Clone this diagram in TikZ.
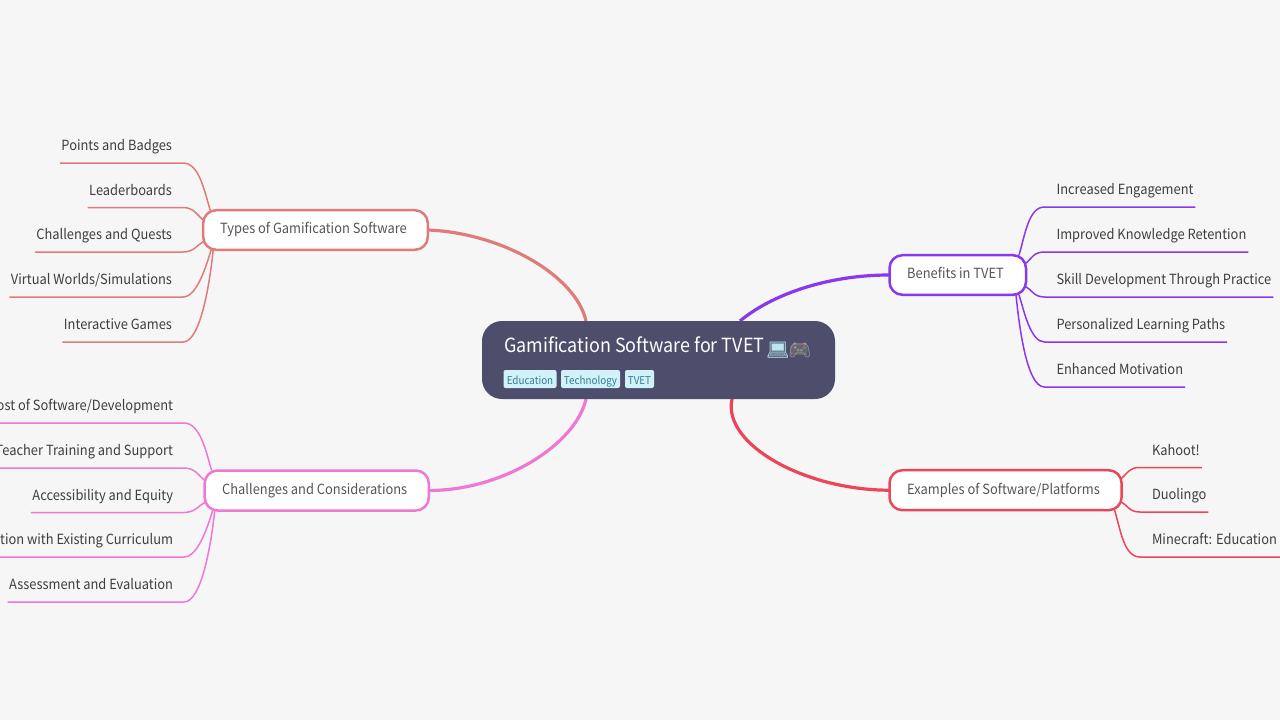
\documentclass[tikz,border=0pt]{standalone}
\usepackage{fontspec}
\setmainfont{Noto Sans CJK SC}[FakeStretch=0.92]
\newfontfamily\emojifont{Noto Emoji}
\usetikzlibrary{calc}
\definecolor{pagebg}{HTML}{F6F6F6}
\definecolor{rootfill}{HTML}{4C4E6B}
\definecolor{tagfill}{HTML}{D2F1F8}
\definecolor{tagtext}{HTML}{2F7F95}
\definecolor{inktext}{HTML}{3E3E3E}
\definecolor{branchtext}{HTML}{555555}
\definecolor{cRed}{HTML}{E07B7B}
\definecolor{cPink}{HTML}{EE78D4}
\definecolor{cPurple}{HTML}{8A38EE}
\definecolor{cCrim}{HTML}{EA4558}
\definecolor{lapcol}{HTML}{BFE3F0}
\definecolor{lapscreen}{HTML}{55707F}
\definecolor{padcol}{HTML}{9A9CA3}
\definecolor{padbody}{HTML}{65666C}
\pgfdeclarelayer{bg}
\pgfsetlayers{bg,main}
\newcommand{\leaffont}{\fontsize{14}{15}\selectfont}
\tikzset{
  x=1pt,y=-1pt,
  rootbox/.style={draw=none,fill=rootfill,rounded corners=20pt,minimum width=353pt,minimum height=78pt,inner sep=0pt,outer sep=0pt,anchor=north west},
  tagbox/.style={fill=tagfill,rounded corners=2pt,minimum height=18pt,inner sep=0pt,outer sep=0pt,anchor=north west,text=tagtext,text height=12pt,text depth=2pt,font=\fontsize{10.7}{12}\selectfont},
  branchbox/.style={draw,line width=2.5pt,fill=white,rounded corners=13pt,inner sep=0pt,outer sep=0pt,anchor=north west},
  branchlabel/.style={anchor=west,inner sep=0pt,text=branchtext,text height=11pt,text depth=3pt,font=\leaffont},
  leafL/.style={inner sep=0pt,outer sep=0pt,minimum height=33pt,anchor=south east,text=inktext,text height=11pt,text depth=3pt,font=\leaffont},
  leafR/.style={inner sep=0pt,outer sep=0pt,minimum height=33pt,anchor=south west,text=inktext,text height=11pt,text depth=3pt,font=\leaffont},
  trunk/.style={line width=3.2pt},
  twig/.style={line width=1.5pt},
}
\newcommand{\lefttext}[1]{\hspace*{1.5pt}#1\hspace*{11pt}}
\newcommand{\righttext}[1]{\hspace*{12pt}#1\hspace*{2pt}}
\begin{document}
\begin{tikzpicture}
\begin{pgfonlayer}{bg}
\fill[pagebg] (0,0) rectangle (1280,720);
\end{pgfonlayer}
\useasboundingbox (0,0) rectangle (1280,720);
\clip (0,0) rectangle (1280,720);
\node[rootbox] (root) at (482,321) {};
\node[anchor=base west,inner sep=0pt,text=white,font=\fontsize{19.5}{20}\selectfont] (title) at (504,352.5) {Gamification Software for TVET};
% colour underlays of the two emoji
\fill[lapscreen] (770.5,342) rectangle (784.5,352.5);
\fill[padbody,rounded corners=4pt] (790,344) rectangle (807.5,355);
\fill[red!70!orange] (802,346) circle (0.9);
\fill[green!60!black] (804,348) circle (0.9);
\fill[blue!70] (800.5,348) circle (0.9);
\node[anchor=base west,inner sep=0pt,text=lapcol,font=\fontsize{18.5}{20}\selectfont\emojifont] (lap) at (766,356) {💻};
\node[anchor=base west,inner sep=0pt,text=padcol,font=\fontsize{18.5}{20}\selectfont\emojifont] (pad) at (788,356) {🎮};
\node[tagbox,minimum width=53pt] (t1) at (503.5,370) {Education};
\node[tagbox,minimum width=59pt] (t2) at (561,370) {Technology};
\node[tagbox,minimum width=29pt] (t3) at (625,370) {TVET};

\node[branchbox,draw=cRed,minimum width=224.6pt,minimum height=39.6pt] (types) at (203.2,210.2) {};
\node[branchlabel] (typesT) at (220,229) {Types of Gamification Software};
\node[branchbox,draw=cPink,minimum width=224.1pt,minimum height=40pt] (chal) at (204.7,470.5) {};
\node[branchlabel] (chalT) at (222,490) {Challenges and Considerations};
\node[branchbox,draw=cPurple,minimum width=136.5pt,minimum height=39.6pt] (bene) at (889.5,255.2) {};
\node[branchlabel] (beneT) at (907,274) {Benefits in TVET};
\node[branchbox,draw=cCrim,minimum width=232.1pt,minimum height=40pt] (exam) at (889.5,470.2) {};
\node[branchlabel] (examT) at (907,490) {Examples of Software/Platforms};

\node[leafL] (a1) at (183,163) {\lefttext{Points and Badges}};
\node[leafL] (a2) at (183,207.5) {\lefttext{Leaderboards}};
\node[leafL] (a3) at (183,252) {\lefttext{Challenges and Quests}};
\node[leafL] (a4) at (183,297) {\lefttext{Virtual Worlds/Simulations}};
\node[leafL] (a5) at (183,342) {\lefttext{Interactive Games}};
\node[leafL] (c1) at (184,423) {\lefttext{Cost of Software/Development}};
\node[leafL] (c2) at (184,468) {\lefttext{Teacher Training and Support}};
\node[leafL] (c3) at (184,512.5) {\lefttext{Accessibility and Equity}};
\node[leafL] (c4) at (184,557) {\lefttext{Integration with Existing Curriculum}};
\node[leafL] (c5) at (184,602) {\lefttext{Assessment and Evaluation}};
\node[leafR] (b1) at (1044.5,207) {\righttext{Increased Engagement}};
\node[leafR] (b2) at (1044.5,252) {\righttext{Improved Knowledge Retention}};
\node[leafR] (b3) at (1044.5,297) {\righttext{Skill Development Through Practice}};
\node[leafR] (b4) at (1044.5,342) {\righttext{Personalized Learning Paths}};
\node[leafR] (b5) at (1044.5,387) {\righttext{Enhanced Motivation}};
\node[leafR] (e1) at (1140,467.5) {\righttext{Kahoot!}};
\node[leafR] (e2) at (1140,512) {\righttext{Duolingo}};
\node[leafR] (e3) at (1140,557) {\righttext{Minecraft: Education}\hspace*{10pt}};

\begin{pgfonlayer}{bg}
\draw[trunk,cRed] (types.east) .. controls +(75,3) and +(-10,-45) .. ([xshift=104pt]root.north west);
\draw[trunk,cPink] (chal.east) .. controls +(75,0) and +(-10,45) .. ([xshift=104pt]root.south west);
\draw[trunk,cPurple] (bene.west) .. controls +(-65,0) and +(30,-25) .. ([xshift=258pt]root.north west);
\draw[trunk,cCrim] (exam.west) .. controls +(-85,0) and +(-10,45) .. ([xshift=250pt]root.south west);
\begin{scope}[twig,cRed]
\draw (a1.south west) -- (a1.south east) .. controls +(16,0) and +(-6,-20) .. ([xshift=7pt]types.north west);
\draw (a2.south west) -- (a2.south east) .. controls +(11,0) and +(-6,-5) .. ([yshift=-10pt]types.north west);
\draw (a3.south west) -- (a3.south east) .. controls +(11,0) and +(-6,3) .. ([yshift=8pt]types.south west);
\draw (a4.south west) -- (a4.south east) .. controls +(14,0) and +(-5,16) .. ([xshift=8pt]types.south west);
\draw (a5.south west) -- (a5.south east) .. controls +(18,0) and +(-3,30) .. ([xshift=10pt]types.south west);
\end{scope}
\begin{scope}[twig,cPink]
\draw (c1.south west) -- (c1.south east) .. controls +(16,0) and +(-6,-20) .. ([xshift=7pt]chal.north west);
\draw (c2.south west) -- (c2.south east) .. controls +(11,0) and +(-6,-5) .. ([yshift=-10pt]chal.north west);
\draw (c3.south west) -- (c3.south east) .. controls +(11,0) and +(-6,3) .. ([yshift=8pt]chal.south west);
\draw (c4.south west) -- (c4.south east) .. controls +(14,0) and +(-5,16) .. ([xshift=8pt]chal.south west);
\draw (c5.south west) -- (c5.south east) .. controls +(18,0) and +(-3,30) .. ([xshift=10pt]chal.south west);
\end{scope}
\begin{scope}[twig,cPurple]
\draw (b1.south east) -- (b1.south west) .. controls +(-16,0) and +(6,-20) .. ([xshift=-7pt]bene.north east);
\draw (b2.south east) -- (b2.south west) .. controls +(-11,0) and +(6,-5) .. ([yshift=-8pt]bene.north east);
\draw (b3.south east) -- (b3.south west) .. controls +(-11,0) and +(6,3) .. ([yshift=8pt]bene.south east);
\draw (b4.south east) -- (b4.south west) .. controls +(-14,0) and +(5,16) .. ([xshift=-7pt]bene.south east);
\draw (b5.south east) -- (b5.south west) .. controls +(-18,0) and +(3,30) .. ([xshift=-10pt]bene.south east);
\end{scope}
\begin{scope}[twig,cCrim]
\draw (e1.south east) -- (e1.south west) .. controls +(-11,0) and +(6,-5) .. ([yshift=-8pt]exam.north east);
\draw (e2.south east) -- (e2.south west) .. controls +(-11,0) and +(6,3) .. ([yshift=8pt]exam.south east);
\draw (e3.south east) -- (e3.south west) .. controls +(-16,0) and +(6,20) .. ([xshift=-7pt]exam.south east);
\end{scope}
\end{pgfonlayer}
\end{tikzpicture}
\end{document}
